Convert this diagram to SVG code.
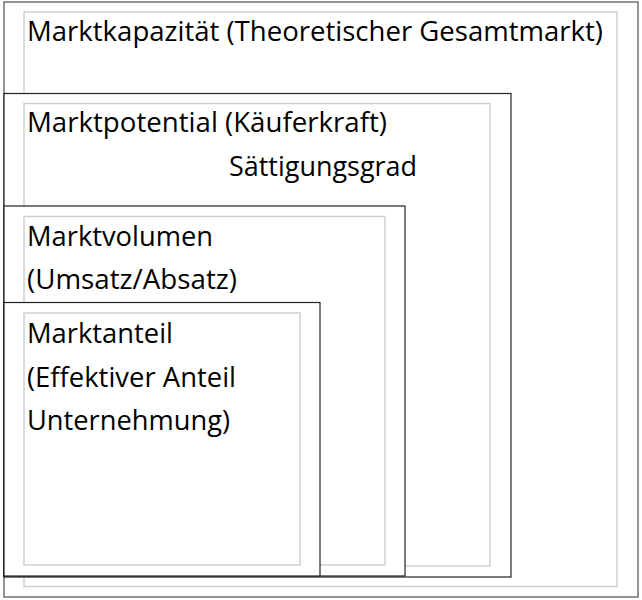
<svg xmlns="http://www.w3.org/2000/svg" width="642" height="600" viewBox="0 0 642 600">
<style>
.frame{fill:#fff;stroke:#222;stroke-width:1.2}
.outer{fill:#fff;stroke:#7a7a7a;stroke-width:1.6}
.inner{fill:#fff;stroke:#d0d0d0;stroke-width:1.5}
.lbl{font-family:"Open Sans","Liberation Sans",sans-serif;font-size:26.5px;fill:#000}
</style>
<rect width="642" height="600" fill="#fff"/>
<g id="marktkapazitaet">
<rect class="outer" x="4" y="2" width="634" height="595"/>
<rect class="inner" x="24" y="12" width="593" height="574.5"/>
<text class="lbl" x="27" y="41" textLength="576" lengthAdjust="spacingAndGlyphs">Marktkapazität (Theoretischer Gesamtmarkt)</text>
</g>
<g id="marktpotential">
<rect class="frame" x="4" y="93.5" width="507" height="483.5"/>
<rect class="inner" x="24" y="103.5" width="466" height="462.5"/>
<text class="lbl" x="27" y="132" textLength="360" lengthAdjust="spacingAndGlyphs">Marktpotential (Käuferkraft)</text>
<text class="lbl" x="229" y="176" textLength="188" lengthAdjust="spacingAndGlyphs">Sättigungsgrad</text>
</g>
<g id="marktvolumen">
<rect class="frame" x="4" y="206" width="401" height="370"/>
<rect class="inner" x="24" y="216.5" width="361" height="348.5"/>
<text class="lbl" x="27" y="246" textLength="186" lengthAdjust="spacingAndGlyphs">Marktvolumen</text>
<text class="lbl" x="27" y="289" textLength="210" lengthAdjust="spacingAndGlyphs">(Umsatz/Absatz)</text>
</g>
<g id="marktanteil">
<rect class="frame" x="4" y="302.5" width="316" height="273.5"/>
<rect class="inner" x="24" y="313" width="276" height="252"/>
<text class="lbl" x="27" y="343" textLength="146" lengthAdjust="spacingAndGlyphs">Marktanteil</text>
<text class="lbl" x="27" y="387" textLength="209" lengthAdjust="spacingAndGlyphs">(Effektiver Anteil</text>
<text class="lbl" x="27" y="430" textLength="203" lengthAdjust="spacingAndGlyphs">Unternehmung)</text>
</g>
<g id="connectors"/>
</svg>
